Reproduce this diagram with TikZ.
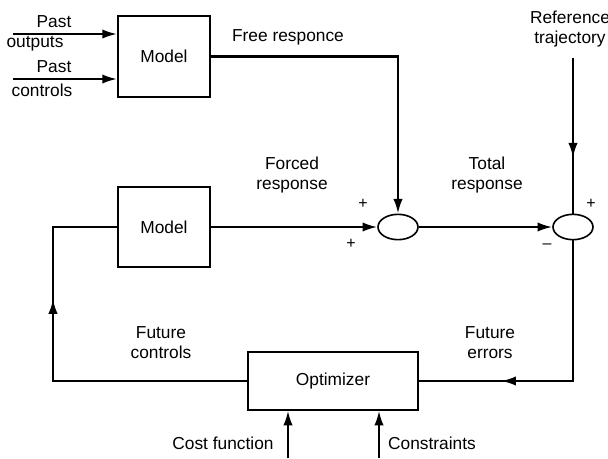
\documentclass[tikz,border=0pt]{standalone}
\usepackage{fontspec}
\setmainfont{Liberation Sans}
\usetikzlibrary{arrows.meta,shapes.geometric,decorations.markings}
\tikzset{
  block/.style={draw, line width=1.6pt, inner sep=0pt},
  sumnode/.style={draw, ellipse, line width=1.2pt, minimum width=30pt, minimum height=19pt, inner sep=0pt},
  sig/.style={line width=1.6pt},
  tip/.style={-{Latex[length=11pt,width=7pt]}},
  midarrow/.style={decoration={markings, mark=at position #1 with {\arrow{Latex[length=11pt,width=7pt]}}}, postaction={decorate}},
  sign/.style={font=\fontsize{12}{14}\selectfont},
}
\begin{document}
\begin{tikzpicture}[x=0.75pt, y=-0.75pt, every node/.style={font=\fontsize{13}{15}\selectfont, align=center}]
\useasboundingbox (0,0) rectangle (608,458);
% blocks
\node[block, minimum width=69pt, minimum height=61pt] (model1) at (164,56.5) {Model};
\node[block, minimum width=69pt, minimum height=60pt] (model2) at (164,227) {Model};
\node[block, minimum width=127pt, minimum height=43pt] (opt) at (333,381) {Optimizer};
\node[sumnode] (sum1) at (398,227) {};
\node[sumnode] (sum2) at (573,227) {};
% free ends
\coordinate (pastout) at (13,34);
\coordinate (pastctl) at (13,79);
\coordinate (ref) at (573,58);
\coordinate (corner) at (53,227);
\coordinate (cost) at (288,458);
\coordinate (constr) at (379,458);
% connectors
\draw[sig, tip] (pastout) -- (model1.west |- pastout);
\draw[sig, tip] (pastctl) -- (model1.west |- pastctl);
\draw[sig, tip] (model1.east) -| (sum1.north);
\draw[sig, tip] (model2.east) -- (sum1.west);
\draw[sig, tip] (sum1.east) -- (sum2.west);
\draw[sig, midarrow=0.64] (ref) -- (sum2.north);
\draw[sig, midarrow=0.72] (sum2.south) |- (opt.east);
\draw[sig, midarrow=0.67] (opt.west) -| (corner) -- (model2.west);
\draw[sig, tip] (cost) -- (cost |- opt.south);
\draw[sig, tip] (constr) -- (constr |- opt.south);
% labels
\node (l1) at (54,22) {Past};
\node (l2) at (35,44) {outputs};
\node (l3) at (54,67) {Past};
\node (l4) at (42,90) {controls};
\node (free) at (288,37) {Free responce};
\node (forced) at (292,175) {Forced\\response};
\node (total) at (487,175) {Total\\response};
\node (reftxt) at (570,29) {Reference\\trajectory};
\node (fctl) at (161,343) {Future\\controls};
\node (ferr) at (490,343) {Future\\errors};
\node (costtxt) at (223,443) {Cost function};
\node (constrtxt) at (432,443) {Constraints};
\node[sign] (p1) at (363,204) {+};
\node[sign] (p2) at (351,244) {+};
\node[sign] (p3) at (591,204) {+};
\node[sign] (m1) at (547,246) {\textendash};
\end{tikzpicture}
\end{document}
